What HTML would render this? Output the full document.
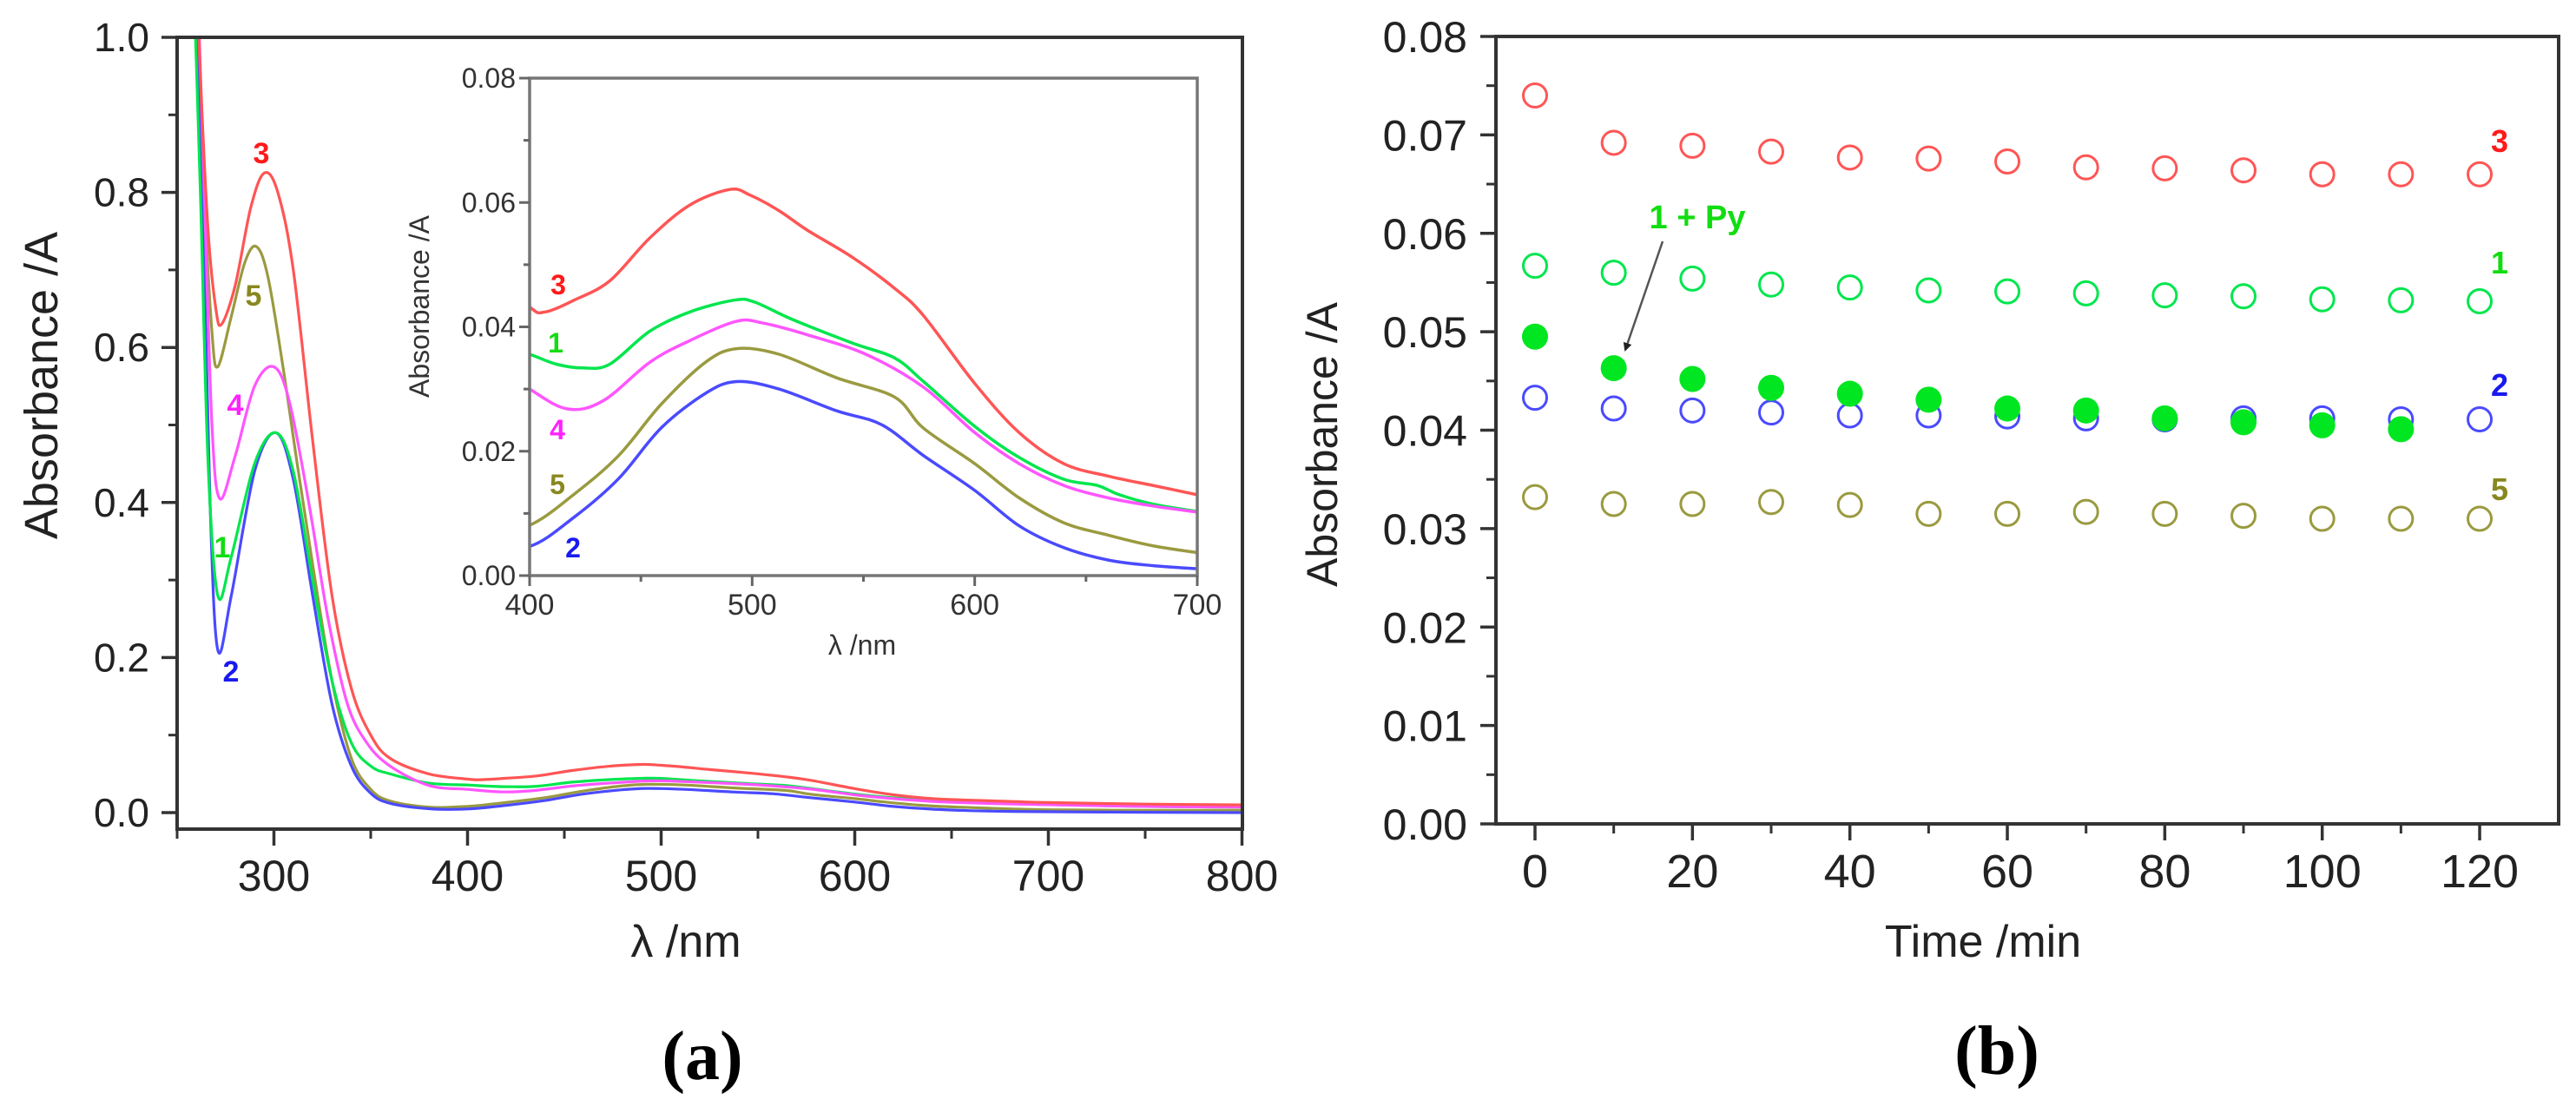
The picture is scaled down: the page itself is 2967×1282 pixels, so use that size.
<!DOCTYPE html>
<html><head><meta charset="utf-8"><style>
html,body{margin:0;padding:0;background:#fff;}
svg{display:block;font-family:"Liberation Sans",Arial,sans-serif;}
</style></head><body>
<svg id="fig" width="2967" height="1282" viewBox="0 0 2967 1282" xmlns="http://www.w3.org/2000/svg">
<defs>
<clipPath id="clipA"><rect x="204" y="43" width="1227" height="912"/></clipPath>
<clipPath id="clipI"><rect x="610" y="90" width="769" height="575"/></clipPath>
<marker id="arrowHead" markerWidth="10" markerHeight="10" refX="8" refY="5" orient="auto" markerUnits="userSpaceOnUse"><path d="M0,0 L10,5 L0,10 z" fill="#222"/></marker>
</defs>
<g id="panelA"></g>
<g id="panelB"></g>
<text x="809" y="1243" text-anchor="middle" font-family="'Liberation Serif',serif" font-size="80" font-weight="bold">(a)</text>
<text x="2300" y="1237" text-anchor="middle" font-family="'Liberation Serif',serif" font-size="80" font-weight="bold">(b)</text>
</svg>
<script>
// ---------- Panel A data ----------
const curveNames = ["1","2","3","4","5"];
const curve1 = [[257,1.2],[262,0.8],[266,0.45],[271,0.28],[278,0.33],[290,0.45],[301,0.49],[310,0.44],[320,0.3],[330,0.17],[340,0.09],[350,0.06],[360,0.05],[380,0.038],[400,0.0356],[412,0.034],[424,0.0334],[436,0.034],[454,0.0393],[472,0.0424],[492,0.0443],[501,0.044],[518,0.0412],[545,0.0374],[564,0.035],[577,0.0312],[600,0.024],[620,0.019],[640,0.0155],[655,0.0145],[665,0.013],[680,0.0115],[700,0.0103],[750,0.008],[800,0.007]];
const curve2 = [[258,1.2],[263,0.8],[267,0.4],[271,0.21],[278,0.28],[290,0.44],[301,0.49],[310,0.43],[320,0.28],[330,0.14],[340,0.06],[350,0.025],[360,0.012],[380,0.005],[400,0.0047],[420,0.0094],[440,0.0156],[459,0.0237],[479,0.0293],[493,0.0312],[512,0.030],[538,0.0265],[558,0.0243],[577,0.0193],[600,0.0137],[620,0.008],[640,0.0045],[660,0.0025],[680,0.0016],[700,0.0011],[750,0.0005],[800,0.0]];
const curve3 = [[258,1.2],[262,0.95],[266,0.75],[270,0.65],[273,0.63],[280,0.68],[288,0.78],[295,0.825],[302,0.8],[310,0.7],[320,0.48],[330,0.28],[340,0.16],[350,0.1],[360,0.07],[380,0.05],[400,0.0432],[407,0.0424],[420,0.0443],[436,0.0474],[454,0.0543],[472,0.0596],[490,0.0621],[499,0.0612],[512,0.0587],[525,0.0555],[545,0.0512],[564,0.0462],[577,0.0418],[600,0.0309],[620,0.023],[640,0.018],[660,0.016],[680,0.0145],[700,0.013],[750,0.011],[800,0.01]];
const curve4 = [[259,1.2],[264,0.8],[268,0.5],[272,0.405],[280,0.46],[290,0.55],[300,0.575],[308,0.53],[318,0.4],[328,0.25],[338,0.14],[348,0.09],[360,0.06],[380,0.035],[400,0.030],[417,0.0268],[433,0.0281],[454,0.0343],[472,0.0378],[493,0.0409],[505,0.0406],[525,0.0387],[551,0.0356],[577,0.0303],[600,0.023],[620,0.018],[640,0.0145],[660,0.0125],[680,0.0112],[700,0.0102],[750,0.008],[800,0.007]];
const curve5 = [[258,1.2],[264,0.8],[268,0.62],[271,0.575],[278,0.64],[285,0.71],[291,0.73],[297,0.69],[305,0.57],[312,0.45],[320,0.32],[330,0.17],[340,0.07],[350,0.03],[360,0.015],[380,0.007],[400,0.0081],[420,0.0131],[440,0.0193],[459,0.0275],[479,0.0343],[493,0.0365],[512,0.0356],[538,0.0318],[564,0.0287],[577,0.0237],[600,0.018],[620,0.0125],[640,0.0085],[660,0.0065],[680,0.0048],[700,0.0037],[750,0.003],[800,0.003]];
const mainXTicks = [300,400,500,600,700,800];
const mainYTicks = [0.0,0.2,0.4,0.6,0.8,1.0];
const insetXTicks = [400,500,600,700];
const insetYTicks = [0.00,0.02,0.04,0.06,0.08];

// ---------- Panel B data ----------
const times = [0,10,20,30,40,50,60,70,80,90,100,110,120];
const series3 = [0.0740,0.0692,0.0689,0.0683,0.0677,0.0676,0.0673,0.0667,0.0666,0.0664,0.0660,0.0660,0.0660];
const series1 = [0.0567,0.0560,0.0554,0.0548,0.0545,0.0542,0.0541,0.0539,0.0537,0.0536,0.0533,0.0532,0.0531];
const series2 = [0.0433,0.0422,0.0420,0.0418,0.0415,0.0415,0.0414,0.0412,0.0411,0.0412,0.0412,0.0411,0.0411];
const series5 = [0.0332,0.0325,0.0325,0.0327,0.0324,0.0315,0.0315,0.0317,0.0315,0.0313,0.0310,0.0310,0.0310];
const series1Py = [0.0495,0.0463,0.0452,0.0443,0.0437,0.0431,0.0422,0.0420,0.0412,0.0408,0.0405,0.0401];
const bXTicks = [0,20,40,60,80,100,120];
const bYTicks = [0.00,0.01,0.02,0.03,0.04,0.05,0.06,0.07,0.08];

const NS="http://www.w3.org/2000/svg";
function mk(tag, attrs, parent){const e=document.createElementNS(NS,tag);for(const k in attrs)e.setAttribute(k,attrs[k]);parent.appendChild(e);return e;}
function smooth(pts){let d="M"+pts[0][0].toFixed(1)+","+pts[0][1].toFixed(1);
 for(let i=0;i<pts.length-1;i++){const p0=pts[i-1]||pts[i],p1=pts[i],p2=pts[i+1],p3=pts[i+2]||p2;
  const c1=[p1[0]+(p2[0]-p0[0])/6,p1[1]+(p2[1]-p0[1])/6],c2=[p2[0]-(p3[0]-p1[0])/6,p2[1]-(p3[1]-p1[1])/6];
  d+=" C"+c1[0].toFixed(1)+","+c1[1].toFixed(1)+" "+c2[0].toFixed(1)+","+c2[1].toFixed(1)+" "+p2[0].toFixed(1)+","+p2[1].toFixed(1);}
 return d;}

const colors={"1":"#00e64d","2":"#4a4aff","3":"#ff5555","4":"#ff55ff","5":"#9a9a40"};
const labelColors={"1":"#11dd11","2":"#1a1aee","3":"#ff1a1a","4":"#ff22ff","5":"#888820"};
const curves={"1":curve1,"2":curve2,"3":curve3,"4":curve4,"5":curve5};

// ---------- Panel A ----------
const A=document.getElementById("panelA");
const ax=v=>204+(v-250)*2.23, ay=v=>936-v*893;
const ix=v=>610+(v-400)*2.5633, iy=v=>663-v*7162.5;

const cg=mk("g",{"clip-path":"url(#clipA)"},A);


["5","2","1","4","3"].forEach(n=>{
 const p=mk("path",{d:smooth(curves[n].map(q=>[ax(q[0]),ay(q[1])])),fill:"none",stroke:colors[n],"stroke-width":3.2},cg);
 
 
});
let f=mk("rect",{x:204,y:43,width:1227,height:912,fill:"none",stroke:"#333","stroke-width":4},A);


mainYTicks.forEach(v=>{
 mk("line",{x1:186,x2:204,y1:ay(v),y2:ay(v),stroke:"#333","stroke-width":3.5},A);
 const t=mk("text",{x:172,y:ay(v)+16,"text-anchor":"end","font-size":46,fill:"#222"},A);t.textContent=v.toFixed(1);
 
 
});
for(let v=0.1;v<1;v+=0.2){mk("line",{x1:194,x2:204,y1:ay(v),y2:ay(v),stroke:"#333","stroke-width":3},A);}
mainXTicks.forEach(v=>{
 mk("line",{x1:ax(v),x2:ax(v),y1:955,y2:974,stroke:"#333","stroke-width":3.5},A);
 const t=mk("text",{x:ax(v),y:1026,"text-anchor":"middle","font-size":50,fill:"#222"},A);t.textContent=v;
 
 
});
for(let v=250;v<=750;v+=100){mk("line",{x1:ax(v),x2:ax(v),y1:955,y2:966,stroke:"#333","stroke-width":3},A);}
let yt=mk("text",{x:0,y:0,transform:"translate(66,444) rotate(-90)","text-anchor":"middle","font-size":54,fill:"#222"},A);yt.textContent="Absorbance /A";


let xt=mk("text",{x:790,y:1102,"text-anchor":"middle","font-size":52,fill:"#222"},A);xt.textContent="λ /nm";


[["3",301,176],["5",292,340],["4",271,466],["1",256,630],["2",266,773]].forEach(l=>{
 const t=mk("text",{x:l[1],y:l[2]+12,"text-anchor":"middle","font-size":34,"font-weight":"bold",fill:labelColors[l[0]]},A);t.textContent=l[0];
 
 
});

// inset
const IG=mk("g",{},A);


mk("rect",{x:610,y:90,width:769,height:573,fill:"#fff"},IG);
const icg=mk("g",{"clip-path":"url(#clipI)"},IG);
["5","2","1","4","3"].forEach(n=>{
 const pts=curves[n].filter(q=>q[0]>=380&&q[0]<=720);
 const p=mk("path",{d:smooth(pts.map(q=>[ix(q[0]),iy(q[1])])),fill:"none",stroke:colors[n],"stroke-width":3.5},icg);
 
 
});
mk("rect",{x:610,y:90,width:769,height:573,fill:"none",stroke:"#777","stroke-width":3.5},IG);
insetYTicks.forEach(v=>{
 mk("line",{x1:598,x2:610,y1:iy(v),y2:iy(v),stroke:"#666","stroke-width":3},IG);
 const t=mk("text",{x:594,y:iy(v)+11,"text-anchor":"end","font-size":32,fill:"#333"},IG);t.textContent=v.toFixed(2);
 
 
});
for(let v=0.01;v<0.08;v+=0.02){mk("line",{x1:603,x2:610,y1:iy(v),y2:iy(v),stroke:"#666","stroke-width":3},IG);}
insetXTicks.forEach(v=>{
 mk("line",{x1:ix(v),x2:ix(v),y1:663,y2:675,stroke:"#666","stroke-width":3},IG);
 const t=mk("text",{x:ix(v),y:708,"text-anchor":"middle","font-size":34,fill:"#333"},IG);t.textContent=v;
 
 
});
[450,550,650].forEach(v=>mk("line",{x1:ix(v),x2:ix(v),y1:663,y2:670,stroke:"#666","stroke-width":3},IG));
let iyt=mk("text",{x:0,y:0,transform:"translate(494,353) rotate(-90)","text-anchor":"middle","font-size":32,fill:"#333"},IG);iyt.textContent="Absorbance /A";


let ixt=mk("text",{x:993,y:754,"text-anchor":"middle","font-size":32,fill:"#333"},IG);ixt.textContent="λ /nm";


[["3",643,328],["1",640,395],["4",642,495],["5",642,558],["2",660,631]].forEach(l=>{
 const t=mk("text",{x:l[1],y:l[2]+11,"text-anchor":"middle","font-size":32,"font-weight":"bold",fill:labelColors[l[0]]},IG);t.textContent=l[0];
 
 
});

// ---------- Panel B ----------
const B=document.getElementById("panelB");
const bx=v=>1768+v*9.067, by=v=>949-v*11337.5;
mk("rect",{x:1723,y:42,width:1224,height:907,fill:"none",stroke:"#333","stroke-width":4},B);
bYTicks.forEach(v=>{
 mk("line",{x1:1705,x2:1723,y1:by(v),y2:by(v),stroke:"#333","stroke-width":3.5},B);
 const t=mk("text",{x:1690,y:by(v)+18,"text-anchor":"end","font-size":50,fill:"#222"},B);t.textContent=v.toFixed(2);
 
 
});
for(let v=0.005;v<0.08;v+=0.01){mk("line",{x1:1712,x2:1723,y1:by(v),y2:by(v),stroke:"#333","stroke-width":3},B);}
bXTicks.forEach(v=>{
 mk("line",{x1:bx(v),x2:bx(v),y1:949,y2:968,stroke:"#333","stroke-width":3.5},B);
 const t=mk("text",{x:bx(v),y:1022,"text-anchor":"middle","font-size":54,fill:"#222"},B);t.textContent=v;
 
 
});
for(let v=10;v<=110;v+=20){mk("line",{x1:bx(v),x2:bx(v),y1:949,y2:960,stroke:"#333","stroke-width":3},B);}
let byt=mk("text",{x:0,y:0,transform:"translate(1540,512) rotate(-90)","text-anchor":"middle","font-size":50,fill:"#222"},B);byt.textContent="Absorbance /A";


let bxt=mk("text",{x:2284,y:1102,"text-anchor":"middle","font-size":52,fill:"#222"},B);bxt.textContent="Time /min";


const openSeries=[["3",series3],["1",series1],["2",series2],["5",series5]];
openSeries.forEach(s=>{
 s[1].forEach((v,i)=>{
  const c=mk("circle",{cx:bx(times[i]),cy:by(v),r:13.5,fill:"none",stroke:colors[s[0]],"stroke-width":3},B);
  
  
 });
});
series1Py.forEach((v,i)=>{
 const c=mk("circle",{cx:bx(times[i]),cy:by(v),r:15,fill:"#00e620"},B);
 
 
});
[["3",162],["1",302],["2",443],["5",563]].forEach(l=>{
 const t=mk("text",{x:2879,y:l[1]+13,"text-anchor":"middle","font-size":36,"font-weight":"bold",fill:labelColors[l[0]]},B);t.textContent=l[0];
 
 
});
let py=mk("text",{x:1955,y:263,"text-anchor":"middle","font-size":38,"font-weight":"bold",fill:"#11dd11"},B);py.textContent="1 + Py";


let ar=mk("line",{x1:1915,y1:278,x2:1872,y2:403,stroke:"#555","stroke-width":2.5,"marker-end":"url(#arrowHead)"},B);


</script>
</body></html>
